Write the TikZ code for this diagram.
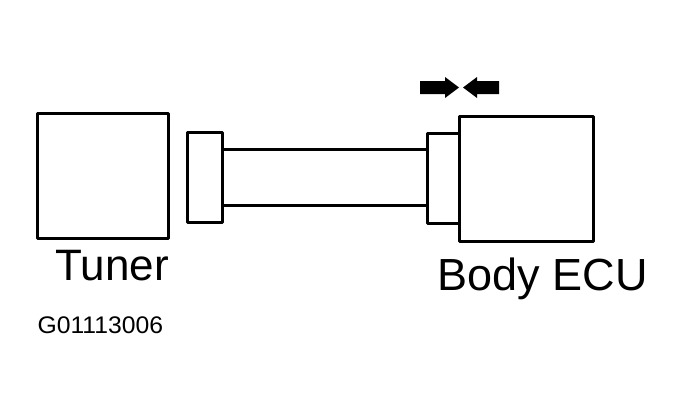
\documentclass[tikz,border=0pt]{standalone}
\usepackage{fontspec}
\setmainfont{Liberation Sans}
\begin{document}
\begin{tikzpicture}[x=1pt,y=-1pt,line width=3pt,
  box/.style={draw,line join=round},
  lbl/.style={inner sep=0pt,anchor=base west}]
\useasboundingbox (0,0) rectangle (679,415);
\draw[box] (37,113) rectangle (168,238);
\coordinate (tunerbox) at (102,175);
\draw[box] (187,132) rectangle (222,222);
\coordinate (lconn) at (222,177);
\draw (222,149) -- (427,149) (222,205) -- (427,205);
\draw[box] (427,133) rectangle (459,223);
\coordinate (rconn) at (427,177);
\draw[box] (459,116) rectangle (593,241);
\coordinate (ecu) at (526,178);
\fill (420,81) -- (445,81) -- (445,77) -- (459,87.5) -- (445,98) -- (445,94) -- (420,94) -- cycle;
\fill (499,81) -- (477,81) -- (477,77) -- (463,87.5) -- (477,98) -- (477,94) -- (499,94) -- cycle;
\node[lbl,font=\fontsize{44}{44}\selectfont] (t1) at (54,280) {Tuner};
\node[lbl,font=\fontsize{45}{45}\selectfont] (t2) at (436,290) {Body ECU};
\node[lbl,font=\fontsize{24}{24}\selectfont,xscale=1.03] (t3) at (36,333) {G01113006};
\end{tikzpicture}
\end{document}
